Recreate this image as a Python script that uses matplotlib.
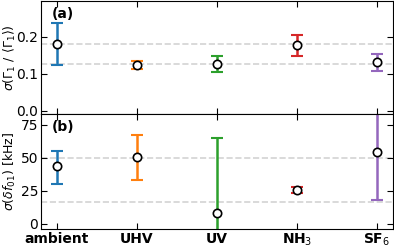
import numpy as np
import matplotlib
matplotlib.use("Agg")
import matplotlib.pyplot as plt

labels = ["ambient", "UHV", "UV", "NH$_3$", "SF$_6$"]
colors = ["#1f77b4", "#ff7f0e", "#2ca02c", "#d62728", "#9467bd"]

# panel (a): sigma(Gamma1/<Gamma1>)
g1_val = [0.181, 0.123, 0.125, 0.177, 0.131]
g1_lo = [0.123, 0.112, 0.105, 0.147, 0.108]
g1_hi = [0.237, 0.135, 0.147, 0.205, 0.152]
g1_ref = [0.181, 0.125]

# panel (b): sigma(delta f01) in kHz
df_val = [43.5, 50.5, 8.5, 25.5, 54.5]
df_lo = [30.5, 33.5, -30.0, 23.5, 18.0]
df_hi = [55.5, 67.0, 65.0, 27.5, 91.0]
df_ref = [49.5, 16.8]

plt.rcParams["font.size"] = 10
fig = plt.figure(figsize=(3.94, 2.47), dpi=100)
ax1 = fig.add_axes([0.104, 0.537, 0.893, 0.459])
ax2 = fig.add_axes([0.104, 0.073, 0.893, 0.464], sharex=ax1)

x = np.arange(len(labels))


def draw(ax, val, lo, hi, ref):
    for h in ref:
        ax.axhline(h, color="lightgray", ls="--", lw=1.2, zorder=0)
    for i in range(len(val)):
        err = [[val[i] - lo[i]], [hi[i] - val[i]]]
        ax.errorbar(x[i], val[i], yerr=err, color=colors[i], lw=1.8,
                    capsize=4, capthick=1.5, fmt="none", zorder=2)
        ax.plot(x[i], val[i], "o", mfc="white", mec="black", mew=1.2,
                ms=6, zorder=3)
    ax.tick_params(direction="in", top=True, right=True, length=4, pad=2)


draw(ax1, g1_val, g1_lo, g1_hi, g1_ref)
draw(ax2, df_val, df_lo, df_hi, df_ref)

ax1.set_xlim(-0.2, 4.2)
ax1.set_ylim(-0.01, 0.296)
ax1.set_yticks([0.0, 0.1, 0.2])
ax1.tick_params(labelbottom=False)
ax1.set_ylabel(r"$\sigma(\Gamma_1\ /\ \langle\Gamma_1\rangle)$", fontsize=9)
ax1.yaxis.set_label_coords(-0.066, 0.5)
ax1.text(0.03, 0.95, "(a)", transform=ax1.transAxes, fontweight="bold",
         va="top", fontsize=10)

ax2.set_ylim(-4, 83)
ax2.set_yticks([0, 25, 50, 75])
ax2.set_xticks(x)
ax2.set_xticklabels(labels, fontweight="bold")
ax2.set_ylabel(r"$\sigma(\delta f_{01})$ [kHz]", fontsize=9)
ax2.yaxis.set_label_coords(-0.066, 0.5)
ax2.text(0.03, 0.95, "(b)", transform=ax2.transAxes, fontweight="bold",
         va="top", fontsize=10)

fig.savefig("out.png", dpi=100)
